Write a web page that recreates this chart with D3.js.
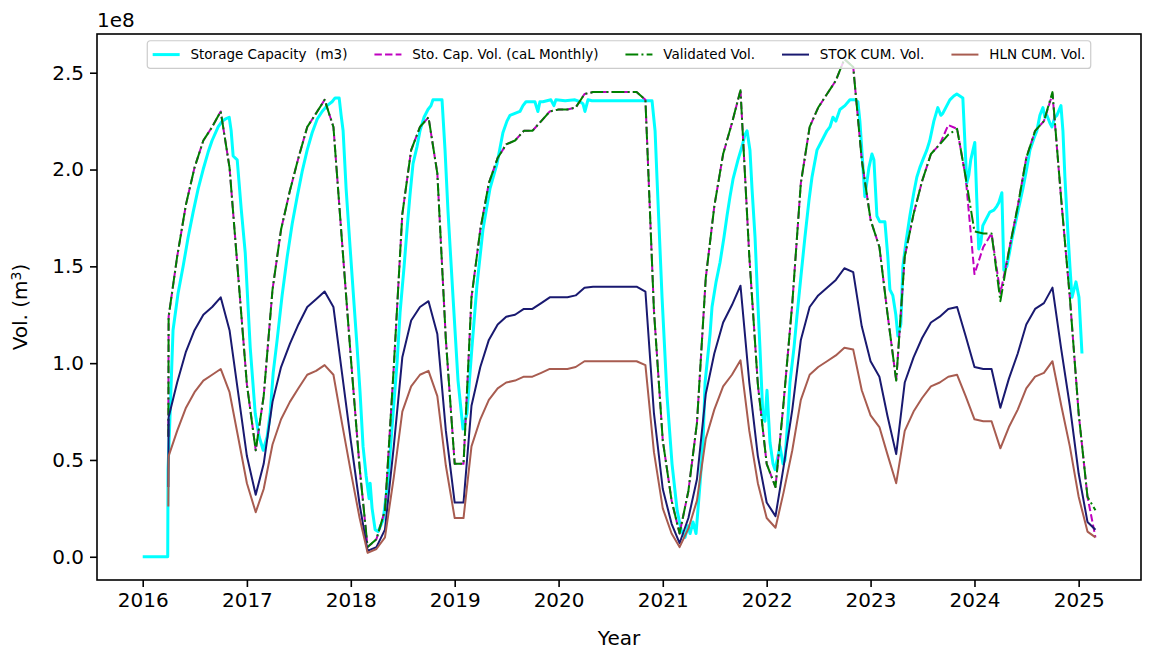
<!DOCTYPE html>
<html>
<head>
<meta charset="utf-8">
<script src="https://cdn.jsdelivr.net/npm/d3@7"></script>
<style>
  body { margin: 0; background: #fff; }
  svg text { font-family: "DejaVu Sans", sans-serif; fill: #000; white-space: pre; }
</style>
</head>
<body>
<svg id="chart" width="1153" height="657"></svg>
<script>
// monthly series dates (first entry is the start-up reading just before April 2016)
const months = [
  "2016-03-31",
  "2016-04-01","2016-05-01","2016-06-01","2016-07-01","2016-08-01","2016-09-01","2016-10-01","2016-11-01","2016-12-01",
  "2017-01-01","2017-02-01","2017-03-01","2017-04-01","2017-05-01","2017-06-01","2017-07-01","2017-08-01","2017-09-01","2017-10-01","2017-11-01","2017-12-01",
  "2018-01-01","2018-02-01","2018-03-01","2018-04-01","2018-05-01","2018-06-01","2018-07-01","2018-08-01","2018-09-01","2018-10-01","2018-11-01","2018-12-01",
  "2019-01-01","2019-02-01","2019-03-01","2019-04-01","2019-05-01","2019-06-01","2019-07-01","2019-08-01","2019-09-01","2019-10-01","2019-11-01","2019-12-01",
  "2020-01-01","2020-02-01","2020-03-01","2020-04-01","2020-05-01","2020-06-01","2020-07-01","2020-08-01","2020-09-01","2020-10-01","2020-11-01","2020-12-01",
  "2021-01-01","2021-02-01","2021-03-01","2021-04-01","2021-05-01","2021-06-01","2021-07-01","2021-08-01","2021-09-01","2021-10-01","2021-11-01","2021-12-01",
  "2022-01-01","2022-02-01","2022-03-01","2022-04-01","2022-05-01","2022-06-01","2022-07-01","2022-08-01","2022-09-01","2022-10-01","2022-11-01","2022-12-01",
  "2023-01-01","2023-02-01","2023-03-01","2023-04-01","2023-05-01","2023-06-01","2023-07-01","2023-08-01","2023-09-01","2023-10-01","2023-11-01","2023-12-01",
  "2024-01-01","2024-02-01","2024-03-01","2024-04-01","2024-05-01","2024-06-01","2024-07-01","2024-08-01","2024-09-01","2024-10-01","2024-11-01","2024-12-01",
  "2025-01-01","2025-02-01","2025-03-01"
];

// volumes in units of 1e8 m3
const capMonthly = [
  0.62,
  1.24,1.55,1.82,2.01,2.15,2.22,2.30,2.01,1.46,
  0.89,0.55,0.83,1.38,1.69,1.89,2.06,2.22,2.29,2.36,2.22,1.63,
  1.03,0.46,0.05,0.09,0.24,0.98,1.77,2.10,2.22,2.27,1.98,1.12,
  0.48,0.48,1.34,1.69,1.93,2.06,2.13,2.15,2.20,2.20,2.25,2.30,
  2.31,2.31,2.32,2.39,2.40,2.40,2.40,2.40,2.40,2.40,2.36,1.27,
  0.60,0.29,0.12,0.34,0.69,1.44,1.81,2.08,2.24,2.41,1.55,0.89,
  0.48,0.36,0.79,1.31,1.93,2.22,2.32,2.39,2.46,2.57,2.53,2.05,
  1.74,1.60,1.26,0.91,1.55,1.77,1.94,2.08,2.13,2.23,2.21,1.96,
  1.46,1.60,1.67,1.36,1.58,1.81,2.06,2.20,2.25,2.39,1.84,1.34,
  0.74,0.31,0.10
];

const validatedVol = [
  0.62,
  1.24,1.55,1.82,2.01,2.15,2.22,2.30,2.01,1.46,
  0.89,0.55,0.83,1.38,1.69,1.89,2.06,2.22,2.29,2.36,2.22,1.63,
  1.03,0.46,0.05,0.09,0.24,0.98,1.77,2.10,2.22,2.27,1.98,1.12,
  0.48,0.48,1.34,1.69,1.93,2.06,2.13,2.15,2.20,2.20,2.25,2.30,
  2.31,2.31,2.32,2.39,2.40,2.40,2.40,2.40,2.40,2.40,2.36,1.27,
  0.60,0.29,0.12,0.34,0.69,1.44,1.81,2.08,2.24,2.41,1.55,0.89,
  0.48,0.36,0.79,1.31,1.93,2.22,2.32,2.39,2.46,2.57,2.53,2.05,
  1.74,1.60,1.26,0.91,1.55,1.77,1.94,2.08,2.13,2.18,2.21,1.96,
  1.68,1.67,1.67,1.32,1.58,1.81,2.06,2.20,2.25,2.40,1.84,1.34,
  0.74,0.31,0.24
];

const stokVol = [
  0.36,
  0.72,0.90,1.06,1.17,1.25,1.29,1.34,1.17,0.85,
  0.52,0.32,0.48,0.80,0.98,1.10,1.20,1.29,1.33,1.37,1.29,0.95,
  0.60,0.27,0.03,0.05,0.14,0.57,1.03,1.22,1.29,1.32,1.15,0.65,
  0.28,0.28,0.78,0.98,1.12,1.20,1.24,1.25,1.28,1.28,1.31,1.34,
  1.34,1.34,1.35,1.39,1.395,1.395,1.395,1.395,1.395,1.395,1.37,0.74,
  0.35,0.17,0.07,0.20,0.40,0.84,1.05,1.21,1.30,1.40,0.90,0.52,
  0.28,0.21,0.46,0.76,1.12,1.29,1.35,1.39,1.43,1.49,1.47,1.19,
  1.01,0.93,0.73,0.53,0.90,1.03,1.13,1.21,1.24,1.28,1.29,1.14,
  0.98,0.97,0.97,0.77,0.92,1.05,1.20,1.28,1.31,1.39,1.07,0.78,
  0.43,0.18,0.14
];

const hlnVol = [
  0.26,
  0.52,0.65,0.77,0.85,0.91,0.94,0.97,0.85,0.62,
  0.38,0.23,0.35,0.58,0.71,0.80,0.87,0.94,0.96,0.99,0.94,0.69,
  0.44,0.20,0.02,0.04,0.10,0.41,0.75,0.88,0.94,0.96,0.83,0.47,
  0.20,0.20,0.57,0.71,0.81,0.87,0.90,0.91,0.93,0.93,0.95,0.97,
  0.97,0.97,0.98,1.01,1.01,1.01,1.01,1.01,1.01,1.01,0.99,0.54,
  0.25,0.12,0.05,0.145,0.29,0.61,0.76,0.88,0.94,1.015,0.65,0.38,
  0.20,0.15,0.33,0.55,0.81,0.94,0.98,1.01,1.04,1.08,1.07,0.86,
  0.73,0.67,0.53,0.38,0.65,0.75,0.82,0.88,0.90,0.93,0.94,0.83,
  0.71,0.70,0.70,0.56,0.67,0.76,0.87,0.93,0.95,1.01,0.78,0.57,
  0.31,0.13,0.10
];

// near-daily storage capacity readings: decimal year and volume (1e8 m3)
const capYear = [
  2016.000,2016.240,2016.243,2016.263,2016.291,2016.339,2016.388,2016.436,2016.484,2016.532,
  2016.580,2016.628,2016.666,2016.724,2016.763,2016.791,2016.830,2016.849,2016.868,2016.907,
  2016.945,2016.984,2017.032,2017.080,2017.118,2017.157,2017.195,2017.224,2017.253,2017.291,
  2017.339,2017.388,2017.436,2017.484,2017.532,2017.580,2017.628,2017.676,2017.724,2017.772,
  2017.820,2017.849,2017.888,2017.907,2017.926,2017.955,2017.993,2018.032,2018.061,2018.089,
  2018.118,2018.147,2018.176,2018.186,2018.205,2018.234,2018.263,2018.311,2018.330,2018.359,
  2018.407,2018.445,2018.474,2018.513,2018.541,2018.570,2018.599,2018.638,2018.666,2018.705,
  2018.743,2018.772,2018.791,2018.839,2018.878,2018.907,2018.936,2018.984,2019.032,2019.080,
  2019.118,2019.166,2019.214,2019.272,2019.339,2019.407,2019.464,2019.503,2019.532,2019.580,
  2019.628,2019.657,2019.686,2019.772,2019.801,2019.820,2019.849,2019.926,2019.955,2019.974,
  2020.063,2020.157,2020.205,2020.234,2020.253,2020.282,2020.320,2020.512,2020.705,2020.897,
  2020.926,2020.945,2020.993,2021.041,2021.089,2021.138,2021.176,2021.214,2021.243,2021.263,
  2021.291,2021.320,2021.359,2021.388,2021.407,2021.455,2021.474,2021.513,2021.551,2021.589,
  2021.618,2021.647,2021.676,2021.724,2021.763,2021.791,2021.811,2021.839,2021.859,2021.888,
  2021.916,2021.936,2021.964,2021.984,2022.003,2022.032,2022.061,2022.080,2022.109,2022.128,
  2022.157,2022.176,2022.205,2022.224,2022.263,2022.291,2022.330,2022.368,2022.407,2022.436,
  2022.484,2022.532,2022.580,2022.609,2022.638,2022.666,2022.705,2022.753,2022.801,2022.849,
  2022.878,2022.897,2022.916,2022.945,2022.984,2023.013,2023.032,2023.061,2023.089,2023.138,
  2023.166,2023.186,2023.214,2023.243,2023.263,2023.291,2023.311,2023.339,2023.378,2023.416,
  2023.445,2023.474,2023.503,2023.541,2023.570,2023.609,2023.647,2023.676,2023.695,2023.734,
  2023.763,2023.801,2023.830,2023.859,2023.888,2023.907,2023.926,2023.945,2023.964,2024.003,
  2024.022,2024.041,2024.061,2024.080,2024.118,2024.147,2024.186,2024.214,2024.234,2024.263,
  2024.282,2024.311,2024.339,2024.359,2024.407,2024.436,2024.464,2024.503,2024.532,2024.570,
  2024.599,2024.628,2024.657,2024.676,2024.695,2024.724,2024.743,2024.772,2024.791,2024.830,
  2024.849,2024.868,2024.897,2024.916,2024.936,2024.955,2024.974,2025.003,2025.032
];
const capVol = [
  0.00,0.00,0.45,0.74,1.17,1.36,1.50,1.65,1.78,1.90,
  2.00,2.09,2.15,2.22,2.25,2.26,2.27,2.20,2.07,2.05,
  1.80,1.57,1.08,0.74,0.62,0.55,0.62,0.74,0.95,1.12,
  1.35,1.55,1.72,1.86,1.99,2.10,2.19,2.26,2.30,2.33,
  2.35,2.37,2.37,2.28,2.20,1.90,1.60,1.30,1.08,0.85,
  0.57,0.42,0.30,0.38,0.25,0.14,0.13,0.19,0.27,0.40,
  0.74,1.00,1.26,1.50,1.69,1.87,2.03,2.12,2.20,2.27,
  2.31,2.33,2.36,2.36,2.36,2.10,1.78,1.34,0.91,0.66,
  0.74,1.08,1.40,1.69,1.90,2.03,2.19,2.25,2.28,2.29,
  2.30,2.33,2.35,2.35,2.30,2.35,2.35,2.36,2.33,2.36,
  2.355,2.36,2.35,2.34,2.30,2.36,2.355,2.355,2.355,2.355,
  2.20,1.95,1.34,0.83,0.48,0.24,0.14,0.10,0.16,0.12,
  0.18,0.12,0.38,0.60,0.90,1.15,1.29,1.42,1.52,1.65,
  1.76,1.86,1.95,2.05,2.12,2.18,2.20,2.10,1.90,1.65,
  1.30,1.07,0.72,0.70,0.86,0.59,0.48,0.45,0.52,0.57,
  0.48,0.50,0.72,0.90,1.08,1.24,1.45,1.65,1.84,1.96,
  2.10,2.15,2.20,2.22,2.27,2.25,2.31,2.33,2.36,2.36,
  2.35,2.25,2.10,1.86,2.01,2.08,2.05,1.76,1.73,1.73,
  1.55,1.38,1.35,1.25,1.14,1.20,1.50,1.62,1.76,1.88,
  1.96,2.01,2.05,2.10,2.15,2.25,2.32,2.28,2.29,2.33,
  2.36,2.38,2.39,2.38,2.37,2.15,1.93,1.97,2.05,2.14,
  1.85,1.59,1.62,1.71,1.75,1.78,1.79,1.81,1.83,1.88,
  1.48,1.50,1.58,1.64,1.76,1.83,1.90,2.01,2.10,2.16,
  2.20,2.28,2.32,2.27,2.28,2.24,2.22,2.27,2.28,2.33,
  2.20,1.96,1.67,1.50,1.34,1.38,1.42,1.34,1.05
];

const yTicks = [0.0, 0.5, 1.0, 1.5, 2.0, 2.5];

const W = 1153, H = 657;
const margin = {top: 34, right: 12, bottom: 77, left: 97};
const plotW = W - margin.left - margin.right;
const plotH = H - margin.top - margin.bottom;

const parseDay = d3.utcParse("%Y-%m-%d");
const decToDate = function(d) {
    const yr = Math.floor(d);
    const a = Date.UTC(yr, 0, 1), b = Date.UTC(yr + 1, 0, 1);
    return new Date(a + (d - yr) * (b - a));
};

const monthDates = months.map(parseDay);

const series = [
    {name: "Storage Capacity  (m3)", color: "#00ffff", width: 3, dash: null,
        pts: capYear.map((t, i) => [decToDate(t), capVol[i]])},
    {name: "Sto. Cap. Vol. (caL Monthly)", color: "#bf00bf", width: 2, dash: "7.4,3.2",
        pts: monthDates.map((d, i) => [d, capMonthly[i]])},
    {name: "Validated Vol.", color: "#008000", width: 2, dash: "12.8,3.2,2,3.2",
        pts: monthDates.map((d, i) => [d, validatedVol[i]])},
    {name: "STOK CUM. Vol.", color: "#191970", width: 2, dash: null,
        pts: monthDates.map((d, i) => [d, stokVol[i]])},
    {name: "HLN CUM. Vol.", color: "#a85c50", width: 2, dash: null,
        pts: monthDates.map((d, i) => [d, hlnVol[i]])}
];

const svg = d3.select("#chart");

const x = d3.scaleUtc()
    .domain([decToDate(2015.56), decToDate(2025.60)])
    .range([0, plotW]);

const y = d3.scaleLinear()
    .domain([-0.12, 2.70])
    .range([plotH, 0]);

const g = svg.append("g")
    .attr("transform", "translate(" + margin.left + "," + margin.top + ")");

svg.append("defs").append("clipPath").attr("id", "plotClip")
    .append("rect").attr("width", plotW).attr("height", plotH);

const line = d3.line()
    .x(d => x(d[0]))
    .y(d => y(d[1]));

const lines = g.append("g").attr("clip-path", "url(#plotClip)");

lines.selectAll("path")
    .data(series)
    .enter().append("path")
    .attr("d", d => line(d.pts))
    .attr("fill", "none")
    .attr("stroke", d => d.color)
    .attr("stroke-width", d => d.width)
    .attr("stroke-dasharray", d => d.dash)
    .attr("stroke-linejoin", "round");

// axes
const xAxis = d3.axisBottom(x)
    .ticks(d3.utcYear.every(1))
    .tickFormat(d3.utcFormat("%Y"))
    .tickSize(7)
    .tickPadding(6);

const yAxis = d3.axisLeft(y)
    .tickValues(yTicks)
    .tickFormat(d3.format(".1f"))
    .tickSize(7)
    .tickPadding(6);

const xAxisG = g.append("g")
    .attr("transform", "translate(0," + plotH + ")")
    .call(xAxis);

const yAxisG = g.append("g").call(yAxis);

[xAxisG, yAxisG].forEach(function(a) {
    a.select(".domain").remove();
    a.selectAll(".tick line").attr("stroke", "#000").attr("stroke-width", 1.6);
    a.selectAll(".tick text")
        .style("font-family", "DejaVu Sans, sans-serif")
        .style("font-size", "20px")
        .attr("fill", "#000");
});

// frame
g.append("rect")
    .attr("width", plotW)
    .attr("height", plotH)
    .attr("fill", "none")
    .attr("stroke", "#000")
    .attr("stroke-width", 1.6);

// labels
svg.append("text")
    .attr("x", margin.left + plotW / 2)
    .attr("y", 645)
    .attr("text-anchor", "middle")
    .style("font-size", "20px")
    .text("Year");

const yLab = svg.append("text")
    .attr("transform", "translate(27," + (margin.top + plotH / 2) + ") rotate(-90)")
    .attr("text-anchor", "middle")
    .style("font-size", "20px");
yLab.append("tspan").text("Vol. (m");
yLab.append("tspan").attr("baseline-shift", "40%").style("font-size", "14px").text("3");
yLab.append("tspan").text(")");

svg.append("text")
    .attr("x", margin.left)
    .attr("y", 27)
    .style("font-size", "20px")
    .text("1e8");

// legend, laid out like matplotlib (upper center, 5 columns)
const fs = 13.5;
const legend = g.append("g");
const legBox = legend.append("rect")
    .attr("fill", "#fff")
    .attr("fill-opacity", 0.8)
    .attr("stroke", "#cccccc")
    .attr("stroke-width", 1.2)
    .attr("rx", 3);

let cursor = 0.4 * fs;
const rowY = 0.4 * fs + 0.5 * fs * 1.25;
series.forEach(function(s, i) {
    legend.append("line")
        .attr("x1", cursor).attr("x2", cursor + 2 * fs)
        .attr("y1", rowY).attr("y2", rowY)
        .attr("stroke", s.color)
        .attr("stroke-width", s.width)
        .attr("stroke-dasharray", s.dash);
    const t = legend.append("text")
        .attr("x", cursor + 2.8 * fs)
        .attr("y", rowY)
        .attr("dy", "0.35em")
        .style("font-size", fs + "px")
        .text(s.name);
    cursor += 2.8 * fs + t.node().getComputedTextLength();
    if (i < series.length - 1) cursor += 2 * fs;
});
cursor += 0.4 * fs;
const legH = 0.8 * fs + 1.25 * fs;
legBox.attr("width", cursor).attr("height", legH);
legend.attr("transform", "translate(" + (plotW / 2 - cursor / 2) + "," + (0.5 * 13.5) + ")");
</script>
</body>
</html>
